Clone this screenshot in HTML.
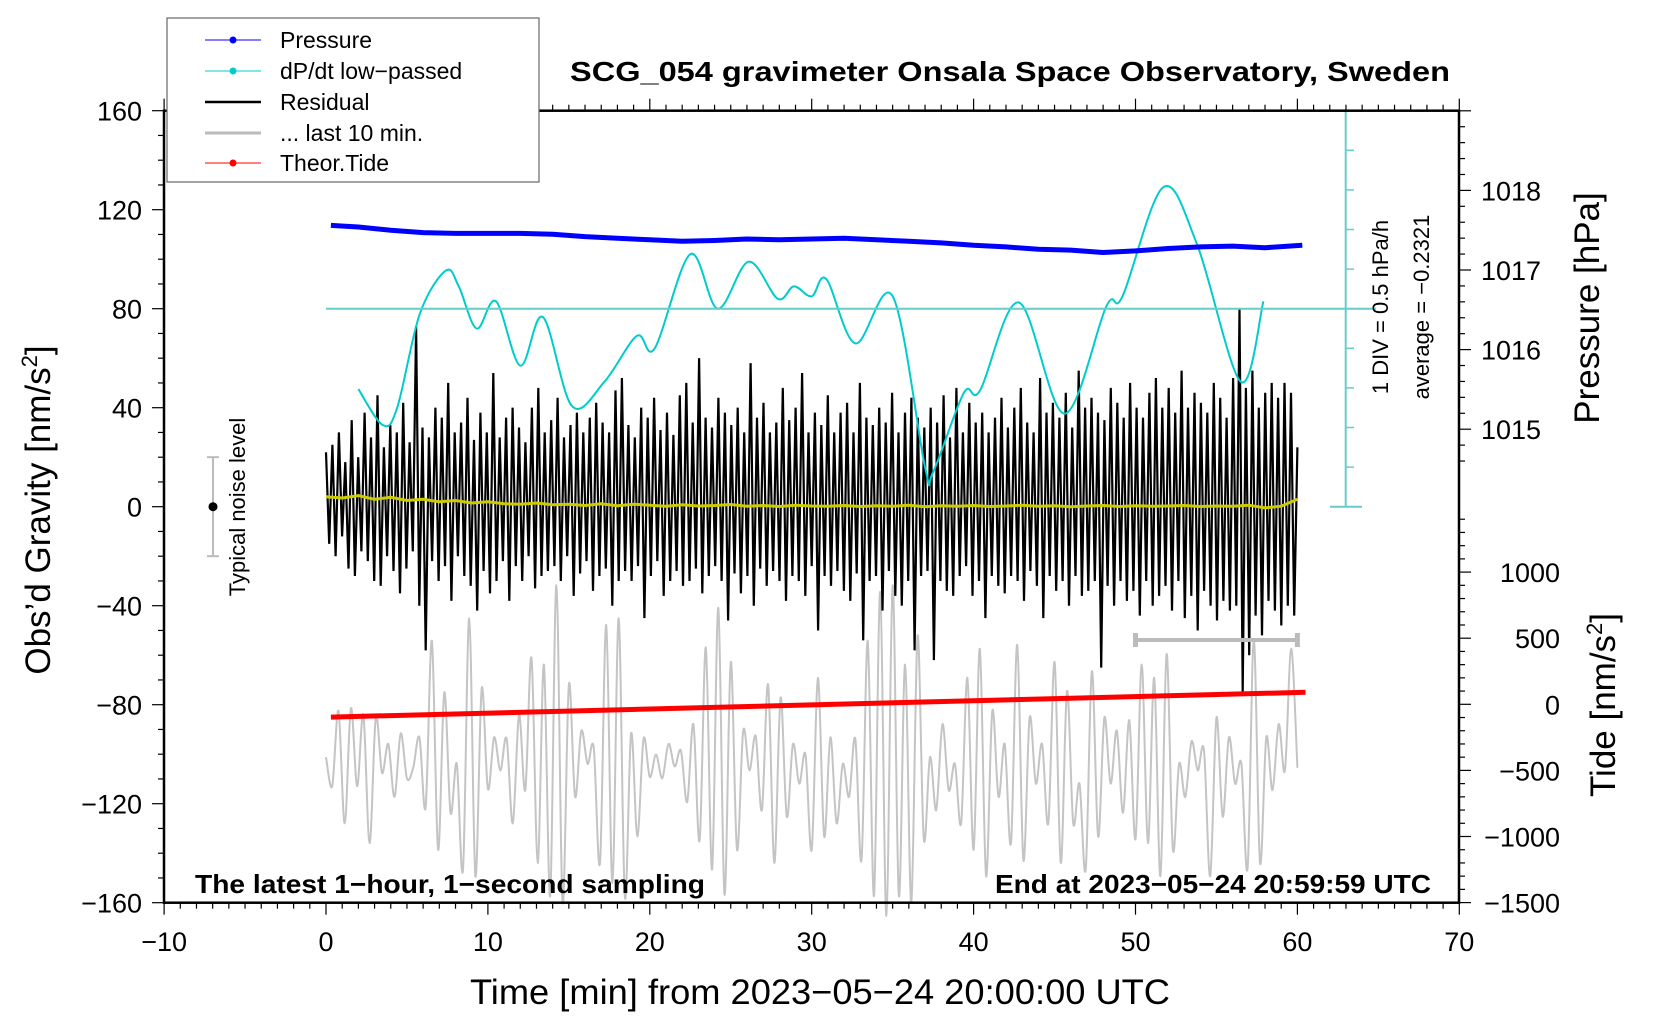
<!DOCTYPE html>
<html><head><meta charset="utf-8"><style>
body{margin:0;background:#fff}
svg{display:block;font-family:"Liberation Sans",sans-serif}
</style></head><body>
<svg id="c" width="1660" height="1020" viewBox="0 0 1660 1020" xmlns="http://www.w3.org/2000/svg">
<rect width="1660" height="1020" fill="#fff"/>
<g id="plot"></g>
<g id="axes"></g>
<text x="1010" y="81" font-size="28" font-weight="bold" text-anchor="middle" textLength="880" lengthAdjust="spacingAndGlyphs">SCG_054 gravimeter Onsala Space Observatory, Sweden</text>
<text x="195" y="893" font-size="26" font-weight="bold" textLength="510" lengthAdjust="spacingAndGlyphs">The latest 1−hour, 1−second sampling</text>
<text x="1431" y="893" font-size="26" font-weight="bold" text-anchor="end" textLength="436" lengthAdjust="spacingAndGlyphs">End at 2023−05−24 20:59:59 UTC</text>
<text x="820" y="1004" font-size="35" text-anchor="middle" textLength="700" lengthAdjust="spacingAndGlyphs">Time [min] from 2023−05−24 20:00:00 UTC</text>
<text transform="translate(50,510) rotate(-90)" font-size="35" text-anchor="middle">Obs’d Gravity [nm/s<tspan font-size="22" dy="-13">2</tspan><tspan dy="13">]</tspan></text>
<text transform="translate(1599,308) rotate(-90)" font-size="35" text-anchor="middle">Pressure [hPa]</text>
<text transform="translate(1615,705) rotate(-90)" font-size="35" text-anchor="middle">Tide [nm/s<tspan font-size="22" dy="-13">2</tspan><tspan dy="13">]</tspan></text>
<text transform="translate(1388,307) rotate(-90)" font-size="22" text-anchor="middle">1 DIV = 0.5 hPa/h</text>
<text transform="translate(1429,307) rotate(-90)" font-size="22" text-anchor="middle">average = −0.2321</text>
<text transform="translate(245,507) rotate(-90)" font-size="22" text-anchor="middle">Typical noise level</text>
<g>
<rect x="167" y="18" width="372" height="164" fill="#fff" stroke="#666" stroke-width="1.2"/>
<g><line x1="205" y1="40" x2="261" y2="40" stroke="#00f" stroke-width="1"/><circle cx="233" cy="40" r="3.5" fill="#00f"/><text x="280" y="48" font-size="23">Pressure</text></g>
<g><line x1="205" y1="71" x2="261" y2="71" stroke="#0cc" stroke-width="1"/><circle cx="233" cy="71" r="3.5" fill="#0cc"/><text x="280" y="79" font-size="23">dP/dt low−passed</text></g>
<g><line x1="205" y1="102" x2="261" y2="102" stroke="#000" stroke-width="2.5"/><text x="280" y="110" font-size="23">Residual</text></g>
<g><line x1="205" y1="133" x2="261" y2="133" stroke="#bbb" stroke-width="3"/><text x="280" y="141" font-size="23">... last 10 min.</text></g>
<g><line x1="205" y1="163" x2="261" y2="163" stroke="#f00" stroke-width="1"/><circle cx="233" cy="163" r="3.5" fill="#f00"/><text x="280" y="171" font-size="23">Theor.Tide</text></g>
</g>
</svg>
<script>
// ---- data ----
const xTicks=[-10,0,10,20,30,40,50,60,70];
const gTicks=[-160,-120,-80,-40,0,40,80,120,160];
const pTicks=[1015,1016,1017,1018];
const tTicks=[-1500,-1000,-500,0,500,1000];
const cyanT=[2,3.5,4.4,5.8,7.4,8.2,9.3,10.5,12,13.4,15.2,17.2,19.2,20.3,22.5,24.2,26.1,27.9,28.9,30,30.9,32.7,35,37,37.5,39.4,40.4,42.8,45.6,48.2,49.2,51.7,53.8,56.5,57.9];
const cyanV=[47.5,33,40,78,95.4,89,72,83,57,76.6,40.6,50.5,69,64,102,80,99,84,89,85,92,66,85,16,14,46,47,82.5,37.6,81,85,129,106,50.5,83];
const pressT=[0.3,2,4,6,8,10,12,14,16,18,20,22,24,26,28,30,32,34,36,38,40,42,44,46,48,50,52,54,56,58,60.3];
const pressV=[1017.56,1017.54,1017.5,1017.47,1017.46,1017.46,1017.46,1017.45,1017.42,1017.4,1017.38,1017.36,1017.37,1017.39,1017.38,1017.39,1017.4,1017.38,1017.36,1017.34,1017.31,1017.29,1017.26,1017.25,1017.22,1017.24,1017.27,1017.29,1017.3,1017.28,1017.31];
const tideT=[0.3,60.5];
const tideV=[-85,-75];
const yellowV=[4,3.5,4.5,3,3.8,2.5,3,2,2.5,1.5,2,1.2,1,1.5,0.8,1,0.5,1.2,0.4,1,0.6,0.2,0.8,0.3,0.5,0.9,0.2,0.5,0.1,0.6,0.3,0.2,0.5,0.1,0.4,0.2,0.6,0,0.4,0.2,0.5,0.1,0.3,0.6,0.2,0.4,0,0.3,0.5,0.1,0.4,0.2,0.3,0.5,0.1,0.3,0.2,0.6,-0.5,0.2,3];
const residV=[22,-15,25,-20,30,-12,18,-25,35,-28,20,-18,38,-22,28,-30,45,-32,24,-20,33,-26,30,-35,42,-25,26,-18,73,-40,32,-58,28,-22,40,-30,36,-24,50,-38,30,-20,34,-28,44,-32,27,-42,38,-26,30,-35,54,-30,28,-22,36,-38,40,-24,32,-30,26,-20,40,-33,48,-28,30,-26,35,-24,44,-30,28,-20,33,-36,38,-27,30,-22,36,-34,42,-28,34,-25,30,-40,47,-30,52,-26,33,-30,28,-24,40,-45,36,-28,44,-22,31,-36,38,-30,29,-26,45,-32,50,-30,34,-25,60,-35,36,-28,32,-24,44,-30,38,-46,33,-27,40,-35,30,-28,58,-40,36,-25,42,-32,30,-26,34,-30,48,-38,35,-28,40,-30,54,-36,30,-24,38,-50,33,-28,45,-32,30,-26,38,-34,42,-38,30,-27,50,-54,36,-30,33,-28,40,-42,34,-26,46,-36,30,-40,38,-30,44,-58,36,-28,32,-26,40,-62,34,-30,45,-34,28,-36,48,-28,30,-24,42,-36,34,-30,38,-45,30,-28,36,-32,44,-35,32,-28,40,-30,48,-38,34,-26,30,-32,52,-45,38,-28,42,-34,36,-30,46,-40,32,-28,55,-36,40,-34,44,-30,38,-65,35,-32,48,-40,42,-30,36,-38,50,-34,40,-44,36,-30,46,-40,52,-36,40,-32,48,-42,38,-30,55,-45,40,-36,46,-50,42,-34,38,-40,50,-46,44,-38,36,-42,52,-40,80,-75,48,-60,55,-44,40,-52,46,-38,50,-42,44,-48,50,-40,46,-44,24];
const grayV=[-400,-620,-50,-900,-30,-620,-80,-1050,-100,-520,-300,-700,-220,-560,-480,-250,-780,480,-1100,90,-820,-450,-1250,650,-1300,120,-640,-250,-500,-260,-900,-80,-650,350,-1200,300,-1450,900,-1500,150,-700,-200,-450,-330,-1200,600,-1350,650,-1460,-220,-1000,-260,-550,-380,-560,-300,-470,-350,-740,-150,-1030,430,-1250,730,-1440,320,-1100,-200,-500,-240,-800,150,-1200,50,-850,-300,-600,-380,-1100,200,-1000,-250,-900,-450,-700,-260,-1180,480,-1450,850,-1600,900,-1450,300,-1500,520,-1020,-400,-800,-150,-650,-450,-900,200,-1100,420,-1300,-50,-700,-300,-1050,450,-1180,-100,-600,-300,-900,320,-1200,100,-900,-600,-1250,250,-1000,-100,-600,-200,-820,-120,-1020,300,-1050,200,-1300,380,-1100,-450,-700,-280,-500,-350,-1300,-100,-850,-250,-600,-450,-1240,480,-1200,-250,-650,-150,-500,420,-480];
// ---- scales ----
const X=t=>326+t*16.19;
const Y=v=>506.7-v*2.475;
const P=p=>270-(p-1017)*79.6;
const T=v=>704.3-v*0.1322;
const NS="http://www.w3.org/2000/svg";
const plot=document.getElementById('plot'), axes=document.getElementById('axes');
function mk(tag,parent,attrs){const e=document.createElementNS(NS,tag);for(const k in attrs)e.setAttribute(k,attrs[k]);parent.appendChild(e);return e;}
function spline(pts){let d='M'+pts[0][0].toFixed(1)+','+pts[0][1].toFixed(1);for(let i=0;i<pts.length-1;i++){const p0=pts[Math.max(0,i-1)],p1=pts[i],p2=pts[i+1],p3=pts[Math.min(pts.length-1,i+2)];const c1=[p1[0]+(p2[0]-p0[0])/6,p1[1]+(p2[1]-p0[1])/6],c2=[p2[0]-(p3[0]-p1[0])/6,p2[1]-(p3[1]-p1[1])/6];d+='C'+c1[0].toFixed(1)+','+c1[1].toFixed(1)+' '+c2[0].toFixed(1)+','+c2[1].toFixed(1)+' '+p2[0].toFixed(1)+','+p2[1].toFixed(1);}return d;}
// gray last 10 min
const gstep=60/(grayV.length-1);
const gray=mk('path',plot,{d:spline(grayV.map((v,i)=>[X(i*gstep),T(v)])),fill:'none',stroke:'#c4c4c4','stroke-width':2});


// residual
const rstep=60/(residV.length-1);
const res=mk('polyline',plot,{points:residV.map((v,i)=>X(i*rstep).toFixed(1)+','+Y(v).toFixed(1)).join(' '),fill:'none',stroke:'#000','stroke-width':2.2,'stroke-linejoin':'bevel'});


// yellow
const ystep=60/(yellowV.length-1);
const yel=mk('polyline',plot,{points:yellowV.map((v,i)=>X(i*ystep).toFixed(1)+','+Y(v).toFixed(1)).join(' '),fill:'none',stroke:'#cc0','stroke-width':3});


// dP/dt
const cy=mk('path',plot,{d:spline(cyanT.map((t,i)=>[X(t),Y(cyanV[i])])),fill:'none',stroke:'#0cc','stroke-width':2});


// pressure
const pr=mk('polyline',plot,{points:pressT.map((t,i)=>X(t).toFixed(1)+','+P(pressV[i]).toFixed(1)).join(' '),fill:'none',stroke:'#00f','stroke-width':5,'stroke-linejoin':'round'});


// tide
const td=mk('polyline',plot,{points:tideT.map((t,i)=>X(t).toFixed(1)+','+Y(tideV[i]).toFixed(1)).join(' '),fill:'none',stroke:'#f00','stroke-width':5});


// noise bar
mk('line',plot,{x1:213,y1:Y(20),x2:213,y2:Y(-20),stroke:'#bbb','stroke-width':2});
mk('line',plot,{x1:207,y1:Y(20),x2:219,y2:Y(20),stroke:'#bbb','stroke-width':2});
mk('line',plot,{x1:207,y1:Y(-20),x2:219,y2:Y(-20),stroke:'#bbb','stroke-width':2});
const nd=mk('circle',plot,{cx:213,cy:Y(0),r:4.5,fill:'#000'});


// 10-min bracket
mk('line',plot,{x1:X(50),y1:640,x2:X(60),y2:640,stroke:'#bbb','stroke-width':4});
mk('line',plot,{x1:X(50),y1:633,x2:X(50),y2:647,stroke:'#bbb','stroke-width':5});
const br=mk('line',plot,{x1:X(60),y1:633,x2:X(60),y2:647,stroke:'#bbb','stroke-width':5});


// dP/dt axis
mk('line',plot,{x1:X(0),y1:Y(80),x2:1376,y2:Y(80),stroke:'#6cc','stroke-width':2});
mk('line',plot,{x1:1345.7,y1:110.7,x2:1345.7,y2:506.7,stroke:'#6cc','stroke-width':2});
mk('line',plot,{x1:1330,y1:110.7,x2:1362,y2:110.7,stroke:'#6cc','stroke-width':2});
mk('line',plot,{x1:1330,y1:506.7,x2:1362,y2:506.7,stroke:'#6cc','stroke-width':2});
for(let v=16;v<160;v+=16){mk('line',plot,{x1:1345.7,y1:Y(v),x2:1354,y2:Y(v),stroke:'#6cc','stroke-width':1.5});}
// frame
const L=164,R=1459,TP=110.7,BT=902.7;
mk('rect',axes,{x:L,y:TP,width:R-L,height:BT-TP,fill:'none',stroke:'#000','stroke-width':2.5});
for(let t=-10;t<=70;t++){const big=t%10===0;mk('line',axes,{x1:X(t),y1:BT,x2:X(t),y2:BT+(big?12:6),stroke:'#000','stroke-width':1.2});mk('line',axes,{x1:X(t),y1:TP,x2:X(t),y2:TP-(big?12:6),stroke:'#000','stroke-width':1.2});}
xTicks.forEach(t=>{const e=mk('text',axes,{x:X(t),y:951,'font-size':27,'text-anchor':'middle'});e.textContent=String(t).replace('-','−');});
for(let v=-160;v<=160;v+=10){mk('line',axes,{x1:L,y1:Y(v),x2:L-(v%40===0?12:6),y2:Y(v),stroke:'#000','stroke-width':1.2});}
gTicks.forEach(v=>{const e=mk('text',axes,{x:142,y:Y(v)+10,'font-size':27,'text-anchor':'end'});e.textContent=String(v).replace('-','−');});
for(let p=1014.6;p<=1019.01;p+=0.2){const y=P(p);if(y<TP||y>510)continue;const big=Math.abs(p-Math.round(p))<0.01;mk('line',axes,{x1:R,y1:y,x2:R+(big?12:6),y2:y,stroke:'#000','stroke-width':1.2});}
pTicks.forEach(p=>{const e=mk('text',axes,{x:1481,y:P(p)+10,'font-size':27});e.textContent=p;});
for(let v=-1500;v<=1500;v+=100){const y=T(v);if(y<515)continue;mk('line',axes,{x1:R,y1:y,x2:R+(v%500===0?12:6),y2:y,stroke:'#000','stroke-width':1.2});}
tTicks.forEach(v=>{const e=mk('text',axes,{x:1560,y:T(v)+10,'font-size':27,'text-anchor':'end'});e.textContent=String(v).replace('-','−');});
</script>
</body></html>
